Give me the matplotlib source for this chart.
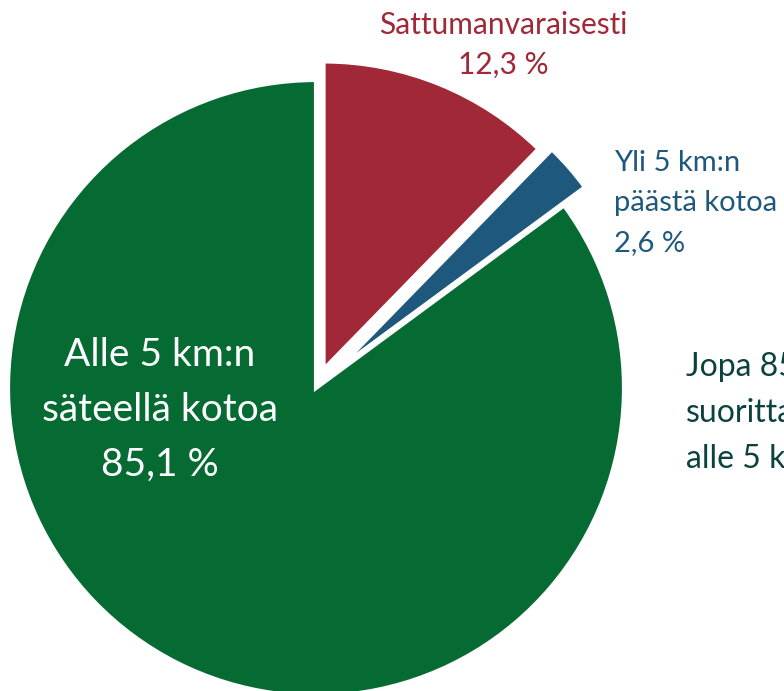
import matplotlib
matplotlib.use("Agg")
import matplotlib.pyplot as plt

# Data
categories = ["Sattumanvaraisesti", "Yli 5 km:n päästä kotoa", "Alle 5 km:n säteellä kotoa"]
values = [12.3, 2.6, 85.1]
value_labels = ["12,3 %", "2,6 %", "85,1 %"]
colors = ["#A02837", "#1F587D", "#066A33"]
explode = [0.065, 0.09, 0.0]

W, H = 784, 691
R = 308.0          # pie radius in pixels
cx, cy = 316.0, 388.0  # pie centre in image pixels (y from top)

fig = plt.figure(figsize=(W / 100, H / 100), dpi=100)
ax = fig.add_axes([0, 0, 1, 1])
ax.pie(values, colors=colors, startangle=90, counterclock=False,
       explode=explode, radius=1.0,
       wedgeprops=dict(edgecolor="white", linewidth=3))
ax.set_xlim(-cx / R, (W - cx) / R)
ax.set_ylim(-(H - cy) / R, cy / R)
ax.set_aspect("auto")
ax.axis("off")

def px(x, y):
    return (x - cx) / R, (cy - y) / R

font = ["Lato", "DejaVu Sans"]

# Sattumanvaraisesti label
x, y = px(503, 25)
ax.text(x, y, "Sattumanvaraisesti", color=colors[0], fontsize=21.5, family=font,
        ha="center", va="center")
x, y = px(503, 65)
ax.text(x, y, value_labels[0], color=colors[0], fontsize=21.5, family=font,
        ha="center", va="center")

# Yli 5 km label
for txt, yy in zip(["Yli 5 km:n", "päästä kotoa", value_labels[1]], [163, 203, 243]):
    x, y = px(614, yy)
    ax.text(x, y, txt, color=colors[1], fontsize=21, family=font,
            ha="left", va="center")

# Alle 5 km label (inside)
for txt, yy in zip(["Alle 5 km:n", "säteellä kotoa", value_labels[2]], [355, 410, 465]):
    x, y = px(160, yy)
    ax.text(x, y, txt, color="white", fontsize=28, family=font,
            ha="center", va="center")

# Side note (cut off at the right edge, as in the original)
for txt, yy in zip(["Jopa 85 %", "suorittaa", "alle 5 km"], [367, 413, 459]):
    x, y = px(686, yy)
    ax.text(x, y, txt, color="#0B4240", fontsize=23, family=font,
            ha="left", va="center")

fig.savefig("out.png", dpi=100)
